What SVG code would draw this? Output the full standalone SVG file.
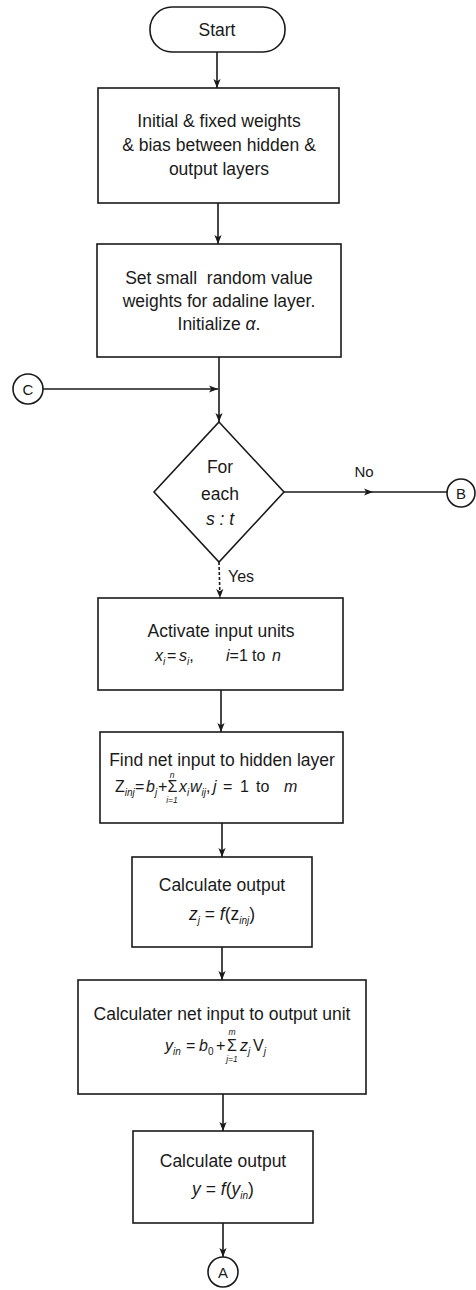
<svg xmlns="http://www.w3.org/2000/svg" width="476" height="1290" viewBox="0 0 476 1290">
<style>
.s{fill:#fff;stroke:#1a1a1a;stroke-width:1.6}
.t{font-family:"Liberation Sans",Arial,sans-serif;font-size:17.5px;fill:#1a1a1a;text-anchor:middle}
.m{font-size:16px;text-anchor:start}
.i{font-style:italic}
.sub{font-size:10px}
.lim{font-size:8.5px;font-style:italic;text-anchor:middle}
.c{fill:none;stroke:#1a1a1a;stroke-width:1.6}
.d{stroke-dasharray:3,2}
</style>
<defs>
<marker id="ah" viewBox="0 0 10 8" refX="10" refY="4" markerWidth="9" markerHeight="7.5" markerUnits="userSpaceOnUse" orient="auto">
<path d="M0,0 L10,4 L0,8 L2.5,4 z" fill="#1a1a1a"/>
</marker>
</defs>
<g id="connectors">
<line class="c" x1="217" y1="52" x2="217" y2="88" marker-end="url(#ah)"/>
<line class="c" x1="218" y1="203" x2="218" y2="244" marker-end="url(#ah)"/>
<line class="c" x1="219" y1="357" x2="219" y2="422" marker-end="url(#ah)"/>
<line class="c" x1="43" y1="389" x2="218" y2="389" marker-end="url(#ah)"/>
<line class="c" x1="284" y1="492" x2="373" y2="492" marker-end="url(#ah)"/>
<line class="c" x1="373" y1="492" x2="448" y2="492"/>
<line class="c d" x1="219" y1="562" x2="220" y2="598" marker-end="url(#ah)"/>
<line class="c" x1="221" y1="690" x2="221" y2="732" marker-end="url(#ah)"/>
<line class="c" x1="222" y1="823" x2="222" y2="857" marker-end="url(#ah)"/>
<line class="c" x1="222" y1="947" x2="222" y2="980" marker-end="url(#ah)"/>
<line class="c" x1="223" y1="1094" x2="223" y2="1131" marker-end="url(#ah)"/>
<line class="c" x1="223" y1="1223" x2="223" y2="1257" marker-end="url(#ah)"/>
<text class="t" x="364" y="477" style="font-size:15px">No</text>
<text class="t" x="228" y="582" style="font-size:16px;text-anchor:start">Yes</text>
</g>
<g id="start">
<rect class="s" x="150" y="7" width="135" height="45" rx="22"/>
<text class="t" x="217" y="36">Start</text>
</g>
<g id="init-fixed">
<rect class="s" x="98" y="88" width="241" height="115"/>
<text class="t" x="219" y="127">Initial &amp; fixed weights</text>
<text class="t" x="219" y="151">&amp; bias between hidden &amp;</text>
<text class="t" x="219" y="175">output layers</text>
</g>
<g id="init-random">
<rect class="s" x="97" y="244" width="244" height="113"/>
<text class="t" x="219" y="284" xml:space="preserve">Set small  random value</text>
<text class="t" x="219" y="307">weights for adaline layer.</text>
<text class="t" x="219" y="330">Initialize <tspan class="i">α</tspan>.</text>
</g>
<g id="conn-c">
<circle class="s" cx="28" cy="389" r="15"/>
<text class="t" x="28" y="395" style="font-size:15px">C</text>
</g>
<g id="decision">
<polygon class="s" points="219,422 284,492 219,562 154,492"/>
<text class="t" x="220" y="473">For</text>
<text class="t" x="220" y="500">each</text>
<text class="t i" x="220" y="525">s : t</text>
</g>
<g id="conn-b">
<circle class="s" cx="461" cy="493" r="14"/>
<text class="t" x="461" y="499" style="font-size:15px">B</text>
</g>
<g id="activate">
<rect class="s" x="98" y="598" width="245" height="92"/>
<text class="t" x="221" y="637">Activate input units</text>
<text class="t m" y="661"><tspan class="i" x="155">x</tspan><tspan class="sub i" dy="4">i</tspan><tspan x="167" dy="-4">=</tspan><tspan class="i" x="179">s</tspan><tspan class="sub i" dy="4">i</tspan><tspan dy="-4">,</tspan><tspan class="i" x="226">i</tspan><tspan>=1</tspan><tspan x="252">to</tspan><tspan class="i" x="272">n</tspan></text>
</g>
<g id="net-hidden">
<rect class="s" x="100" y="732" width="243" height="91"/>
<text class="t" x="222" y="766">Find net input to hidden layer</text>
<text class="t m" y="792"><tspan x="115">Z</tspan><tspan class="sub i" dy="4">inj</tspan><tspan x="135" dy="-4">=</tspan><tspan class="i" x="146">b</tspan><tspan class="sub i" dy="4">j</tspan><tspan x="158" dy="-4">+</tspan><tspan x="167.5">Σ</tspan><tspan class="lim" x="172" y="778">n</tspan><tspan class="lim" x="172" y="803">i=1</tspan><tspan class="i" x="179" y="792">x</tspan><tspan class="sub i" dy="4">i</tspan><tspan class="i" x="190" dy="-4">w</tspan><tspan class="sub i" dy="4">ij</tspan><tspan dy="-4">,</tspan><tspan class="i" x="213">j</tspan><tspan x="223">=</tspan><tspan x="240">1</tspan><tspan x="256">to</tspan><tspan class="i" x="284">m</tspan></text>
</g>
<g id="out-hidden">
<rect class="s" x="132" y="857" width="180" height="90"/>
<text class="t" x="222" y="891">Calculate output</text>
<text class="t" x="222" y="920"><tspan class="i">z</tspan><tspan class="sub i" dy="4">j</tspan><tspan dy="-4"> = </tspan><tspan class="i">f</tspan>(z<tspan class="sub i" dy="4">inj</tspan><tspan dy="-4">)</tspan></text>
</g>
<g id="net-output">
<rect class="s" x="78" y="980" width="288" height="114"/>
<text class="t" x="222" y="1020">Calculater net input to output unit</text>
<text class="t m" y="1051"><tspan class="i" x="165">y</tspan><tspan class="sub i" dy="4">in</tspan><tspan x="186" dy="-4">=</tspan><tspan class="i" x="199">b</tspan><tspan class="sub" dy="4">0</tspan><tspan x="216" dy="-4">+</tspan><tspan x="227">Σ</tspan><tspan class="lim" x="232" y="1035">m</tspan><tspan class="lim" x="232" y="1062">j=1</tspan><tspan class="i" x="240" y="1051">z</tspan><tspan class="sub i" dy="4">j</tspan><tspan x="253" dy="-4">V</tspan><tspan class="sub i" dy="4">j</tspan></text>
</g>
<g id="out-final">
<rect class="s" x="133" y="1131" width="180" height="92"/>
<text class="t" x="223" y="1167">Calculate output</text>
<text class="t" x="223" y="1195"><tspan class="i">y</tspan> = <tspan class="i">f</tspan>(<tspan class="i">y</tspan><tspan class="sub i" dy="4">in</tspan><tspan dy="-4">)</tspan></text>
</g>
<g id="conn-a">
<circle class="s" cx="223" cy="1272" r="15"/>
<text class="t" x="223" y="1278" style="font-size:15px">A</text>
</g>
</svg>
